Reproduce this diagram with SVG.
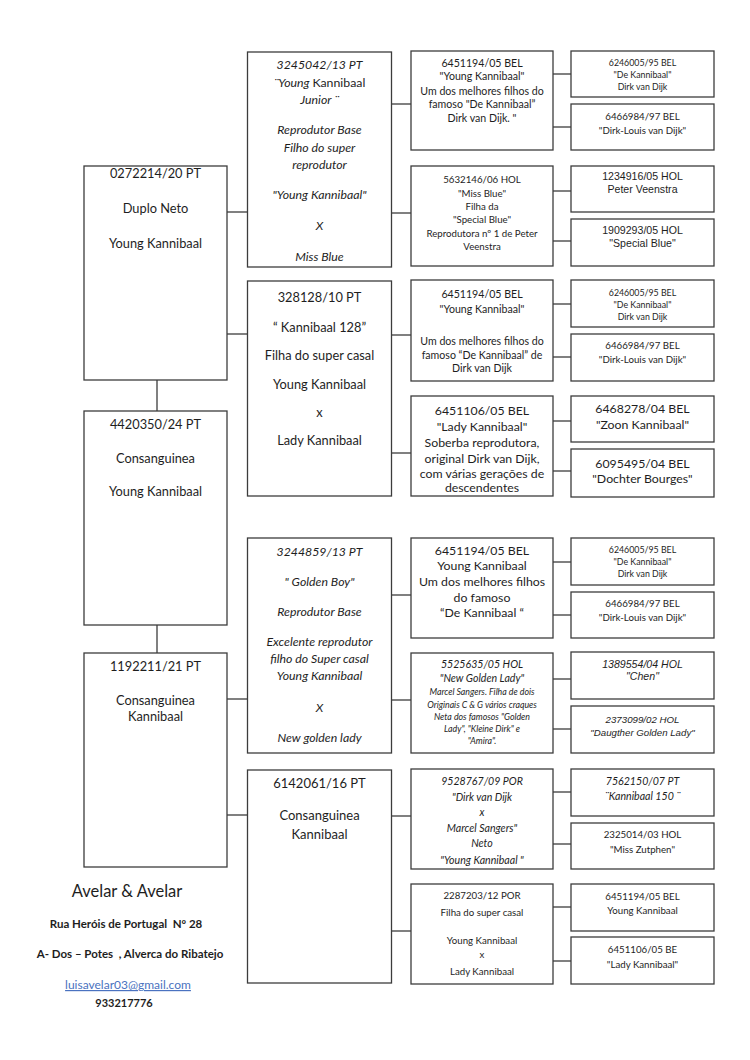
<svg xmlns="http://www.w3.org/2000/svg" width="750" height="1060" viewBox="0 0 750 1060">
<style>
.bx{fill:#fff;stroke:#3c3c3c;stroke-width:1.3}
.cn line{stroke:#3c3c3c;stroke-width:1.3}
text{font-family:Lato,"Liberation Sans",sans-serif;fill:#1e1e1e;text-anchor:middle;white-space:pre}
.t14{font-size:12.8px}
.t13{font-size:13px}
.t12{font-size:12.3px}
.t11{font-size:10.6px}
.t10{font-size:9.7px}
.t9{font-size:8.8px}
.it{font-style:italic}
.ar{font-family:"Liberation Sans",Arial,sans-serif}
.b{font-weight:bold}
</style>
<rect width="750" height="1060" fill="#fff"/>
<g class="cn" id="connectors">
<line x1="157" y1="380" x2="157" y2="411"/>
<line x1="157" y1="625" x2="157" y2="653"/>
<line x1="227" y1="212" x2="248" y2="212"/>
<line x1="227" y1="334" x2="248" y2="334"/>
<line x1="227" y1="699" x2="248" y2="699"/>
<line x1="227" y1="815" x2="248" y2="815"/>
<line x1="391" y1="104" x2="411" y2="104"/>
<line x1="391" y1="213" x2="411" y2="213"/>
<line x1="391" y1="335" x2="411" y2="335"/>
<line x1="391" y1="453" x2="411" y2="453"/>
<line x1="391" y1="595" x2="411" y2="595"/>
<line x1="391" y1="700" x2="411" y2="700"/>
<line x1="391" y1="816" x2="411" y2="816"/>
<line x1="391" y1="931" x2="411" y2="931"/>
<line x1="553" y1="74" x2="571" y2="74"/>
<line x1="553" y1="127" x2="571" y2="127"/>
<line x1="553" y1="191" x2="571" y2="191"/>
<line x1="553" y1="241" x2="571" y2="241"/>
<line x1="553" y1="304" x2="571" y2="304"/>
<line x1="553" y1="357" x2="571" y2="357"/>
<line x1="553" y1="421" x2="571" y2="421"/>
<line x1="553" y1="471" x2="571" y2="471"/>
<line x1="553" y1="562" x2="571" y2="562"/>
<line x1="553" y1="615" x2="571" y2="615"/>
<line x1="553" y1="679" x2="571" y2="679"/>
<line x1="553" y1="729" x2="571" y2="729"/>
<line x1="553" y1="792" x2="571" y2="792"/>
<line x1="553" y1="844" x2="571" y2="844"/>
<line x1="553" y1="907" x2="571" y2="907"/>
<line x1="553" y1="961" x2="571" y2="961"/>
</g>

<!-- Column 1 -->
<g id="n0272214">
<rect class="bx" x="84" y="166" width="143" height="214"/>
<text class="t14" x="155.5" y="178">0272214/20 PT</text>
<text class="t14" x="155.5" y="213">Duplo Neto</text>
<text class="t14" x="155.5" y="248">Young Kannibaal</text>
</g>
<g id="n4420350">
<rect class="bx" x="84" y="411" width="143" height="214"/>
<text class="t14" x="155.5" y="429">4420350/24 PT</text>
<text class="t14" x="155.5" y="463">Consanguinea</text>
<text class="t14" x="155.5" y="496">Young Kannibaal</text>
</g>
<g id="n1192211">
<rect class="bx" x="84" y="653" width="143" height="214"/>
<text class="t14" x="155.5" y="671">1192211/21 PT</text>
<text class="t14" x="155.5" y="705">Consanguinea</text>
<text class="t14" x="155.5" y="721">Kannibaal</text>
</g>

<!-- Column 2 -->
<g id="n3245042">
<rect class="bx" x="247.5" y="52" width="144" height="215"/>
<text class="t12 it" x="319.5" y="69">3245042/13 PT</text>
<text class="t12 it" x="319.5" y="87">¨Young <tspan font-style="normal">Kannibaal</tspan></text>
<text class="t12 it" x="319.5" y="104">Junior ¨</text>
<text class="t12 it" x="319.5" y="134">Reprodutor Base</text>
<text class="t12 it" x="319.5" y="152">Filho do super</text>
<text class="t12 it" x="319.5" y="169">reprodutor</text>
<text class="t12 it" x="319.5" y="199">"Young Kannibaal"</text>
<text class="t12 it" x="319.5" y="230">X</text>
<text class="t12 it" x="319.5" y="261">Miss Blue</text>
</g>
<g id="n328128">
<rect class="bx" x="247.5" y="281" width="144" height="215"/>
<text class="t14" x="319.5" y="302">328128/10 PT</text>
<text class="t14" x="319.5" y="332">“ Kannibaal 128”</text>
<text class="t14" x="319.5" y="360">Filha do super casal</text>
<text class="t14" x="319.5" y="389">Young Kannibaal</text>
<text class="t14" x="319.5" y="417">x</text>
<text class="t14" x="319.5" y="445">Lady Kannibaal</text>
</g>
<g id="n3244859">
<rect class="bx" x="247.5" y="538" width="144" height="215"/>
<text class="t12 it" x="319.5" y="556">3244859/13 PT</text>
<text class="t12 it" x="319.5" y="586">" Golden Boy"</text>
<text class="t12 it" x="319.5" y="616">Reprodutor Base</text>
<text class="t12 it" x="319.5" y="646">Excelente reprodutor</text>
<text class="t12 it" x="319.5" y="663">filho do Super casal</text>
<text class="t12 it" x="319.5" y="680">Young Kannibaal</text>
<text class="t12 it" x="319.5" y="712">X</text>
<text class="t12 it" x="319.5" y="742">New golden lady</text>
</g>
<g id="n6142061">
<rect class="bx" x="247.5" y="770" width="144" height="213"/>
<text class="t13" x="319.5" y="788">6142061/16 PT</text>
<text class="t13" x="319.5" y="820">Consanguinea</text>
<text class="t13" x="319.5" y="839">Kannibaal</text>
</g>

<!-- Column 3 -->
<g id="n6451194a">
<rect class="bx" x="411" y="51" width="142" height="99"/>
<text class="t11" x="482" y="67">6451194/05 BEL</text>
<text class="t11" x="482" y="80">"Young Kannibaal"</text>
<text class="t11" x="482" y="95">Um dos melhores filhos do</text>
<text class="t11" x="482" y="108">famoso "De Kannibaal”</text>
<text class="t11" x="482" y="122">Dirk van Dijk. "</text>
</g>
<g id="n5632146">
<rect class="bx" x="411" y="166" width="142" height="100"/>
<text class="t10" x="482" y="183">5632146/06 HOL</text>
<text class="t10" x="482" y="197">"Miss Blue"</text>
<text class="t10" x="482" y="210">Filha da</text>
<text class="t10" x="482" y="223">"Special Blue"</text>
<text class="t10" x="482" y="237">Reprodutora nº 1 de Peter</text>
<text class="t10" x="482" y="250">Veenstra</text>
</g>
<g id="n6451194b">
<rect class="bx" x="411" y="280" width="142" height="101"/>
<text class="t11" x="482" y="298">6451194/05 BEL</text>
<text class="t11" x="482" y="313">"Young Kannibaal"</text>
<text class="t11" x="482" y="345">Um dos melhores filhos do</text>
<text class="t11" x="482" y="359">famoso “De Kannibaal” de</text>
<text class="t11" x="482" y="372">Dirk van Dijk</text>
</g>
<g id="n6451106a">
<rect class="bx" x="411" y="396" width="142" height="100"/>
<text class="t12" x="482" y="415">6451106/05 BEL</text>
<text class="t12" x="482" y="431">"Lady Kannibaal"</text>
<text class="t12" x="482" y="447">Soberba reprodutora,</text>
<text class="t12" x="482" y="463">original Dirk van Dijk,</text>
<text class="t12" x="482" y="478">com várias gerações de</text>
<text class="t12" x="482" y="492">descendentes</text>
</g>
<g id="n6451194c">
<rect class="bx" x="411" y="538" width="142" height="100"/>
<text class="t12" x="482" y="555">6451194/05 BEL</text>
<text class="t12" x="482" y="570">Young Kannibaal</text>
<text class="t12" x="482" y="586">Um dos melhores filhos</text>
<text class="t12" x="482" y="602">do famoso</text>
<text class="t12" x="482" y="617">“De Kannibaal “</text>
</g>
<g id="n5525635">
<rect class="bx" x="411" y="653" width="142" height="100"/>
<text class="t11 it" x="482" y="668">5525635/05 HOL</text>
<text class="t11 it" x="482" y="682">"New Golden Lady"</text>
<text class="t9 it" x="482" y="695">Marcel Sangers. Filha de dois</text>
<text class="t9 it" x="482" y="708">Originais C &amp; G vários craques</text>
<text class="t9 it" x="482" y="720">Neta dos famosos "Golden</text>
<text class="t9 it" x="482" y="732">Lady", "Kleine Dirk" e</text>
<text class="t9 it" x="482" y="744">"Amira".</text>
</g>
<g id="n9528767">
<rect class="bx" x="411" y="769" width="142" height="100"/>
<text class="t11 it" x="482" y="785">9528767/09 POR</text>
<text class="t11 it" x="482" y="801">"Dirk van Dijk</text>
<text class="t11 it" x="482" y="816">x</text>
<text class="t11 it" x="482" y="832">Marcel Sangers"</text>
<text class="t11 it" x="482" y="847">Neto</text>
<text class="t11 it" x="482" y="864">"Young Kannibaal "</text>
</g>
<g id="n2287203">
<rect class="bx" x="411" y="884" width="142" height="100"/>
<text class="t10" x="482" y="899">2287203/12 POR</text>
<text class="t10" x="482" y="916">Filha do super casal</text>
<text class="t10" x="482" y="944">Young Kannibaal</text>
<text class="t10" x="482" y="958">x</text>
<text class="t10" x="482" y="975">Lady Kannibaal</text>
</g>

<!-- Column 4 -->
<g id="n6246005a">
<rect class="bx" x="571" y="51" width="143" height="46"/>
<text class="t9" x="642.5" y="66">6246005/95 BEL</text>
<text class="t9" x="642.5" y="78">"De Kannibaal"</text>
<text class="t9" x="642.5" y="90">Dirk van Dijk</text>
</g>
<g id="n6466984a">
<rect class="bx" x="571" y="104" width="143" height="46"/>
<text class="t10" x="642.5" y="120">6466984/97 BEL</text>
<text class="t10" x="642.5" y="134">"Dirk-Louis van Dijk"</text>
</g>
<g id="n1234916">
<rect class="bx" x="571" y="166" width="143" height="46"/>
<text class="t11 ar" x="642.5" y="180">1234916/05 HOL</text>
<text class="t11 ar" x="642.5" y="193">Peter Veenstra</text>
</g>
<g id="n1909293">
<rect class="bx" x="571" y="219" width="143" height="47"/>
<text class="t11 ar" x="642.5" y="234">1909293/05 HOL</text>
<text class="t11 ar" x="642.5" y="247">"Special Blue"</text>
</g>
<g id="n6246005b">
<rect class="bx" x="571" y="280" width="143" height="47"/>
<text class="t9" x="642.5" y="296">6246005/95 BEL</text>
<text class="t9" x="642.5" y="308">"De Kannibaal"</text>
<text class="t9" x="642.5" y="320">Dirk van Dijk</text>
</g>
<g id="n6466984b">
<rect class="bx" x="571" y="334" width="143" height="47"/>
<text class="t10" x="642.5" y="349">6466984/97 BEL</text>
<text class="t10" x="642.5" y="363">"Dirk-Louis van Dijk"</text>
</g>
<g id="n6468278">
<rect class="bx" x="571" y="396" width="143" height="46"/>
<text class="t12" x="642.5" y="413">6468278/04 BEL</text>
<text class="t12" x="642.5" y="429">"Zoon Kannibaal"</text>
</g>
<g id="n6095495">
<rect class="bx" x="571" y="449" width="143" height="48"/>
<text class="t12" x="642.5" y="468">6095495/04 BEL</text>
<text class="t12" x="642.5" y="483">"Dochter Bourges"</text>
</g>
<g id="n6246005c">
<rect class="bx" x="571" y="538" width="143" height="47"/>
<text class="t9" x="642.5" y="553">6246005/95 BEL</text>
<text class="t9" x="642.5" y="565">"De Kannibaal"</text>
<text class="t9" x="642.5" y="577">Dirk van Dijk</text>
</g>
<g id="n6466984c">
<rect class="bx" x="571" y="592" width="143" height="46"/>
<text class="t10" x="642.5" y="607">6466984/97 BEL</text>
<text class="t10" x="642.5" y="621">"Dirk-Louis van Dijk"</text>
</g>
<g id="n1389554">
<rect class="bx" x="571" y="652" width="143" height="47"/>
<text class="t11 ar it" x="642.5" y="668">1389554/04 HOL</text>
<text class="t11 ar it" x="642.5" y="680">"Chen"</text>
</g>
<g id="n2373099">
<rect class="bx" x="571" y="706" width="143" height="47"/>
<text class="t10 ar it" x="642.5" y="723">2373099/02 HOL</text>
<text class="t10 ar it" x="642.5" y="736">"Daugther Golden Lady"</text>
</g>
<g id="n7562150">
<rect class="bx" x="571" y="769" width="143" height="47"/>
<text class="t11 it" x="642.5" y="785">7562150/07 PT</text>
<text class="t11 it" x="642.5" y="800">¨Kannibaal 150 ¨</text>
</g>
<g id="n2325014">
<rect class="bx" x="571" y="823" width="143" height="46"/>
<text class="t10" x="642.5" y="838">2325014/03 HOL</text>
<text class="t10" x="642.5" y="853">"Miss Zutphen"</text>
</g>
<g id="n6451194d">
<rect class="bx" x="571" y="884" width="143" height="47"/>
<text class="t10" x="642.5" y="900">6451194/05 BEL</text>
<text class="t10" x="642.5" y="914">Young Kannibaal</text>
</g>
<g id="n6451106b">
<rect class="bx" x="571" y="937" width="143" height="47"/>
<text class="t10" x="642.5" y="953">6451106/05 BE</text>
<text class="t10" x="642.5" y="968">"Lady Kannibaal"</text>
</g>

<!-- Footer -->
<g id="footer">
<text x="127" y="897" style="font-size:16.5px">Avelar &amp; Avelar</text>
<text class="b" x="126" y="928" style="font-size:11.5px">Rua Heróis de Portugal  Nº 28</text>
<text class="b" x="130" y="958" style="font-size:11.5px">A- Dos – Potes  , Alverca do Ribatejo</text>
<text x="128" y="989" style="font-size:12px;fill:#4a72c0;text-decoration:underline">luisavelar03@gmail.com</text>
<text class="b" x="124" y="1007" style="font-size:11px">933217776</text>
</g>
</svg>
